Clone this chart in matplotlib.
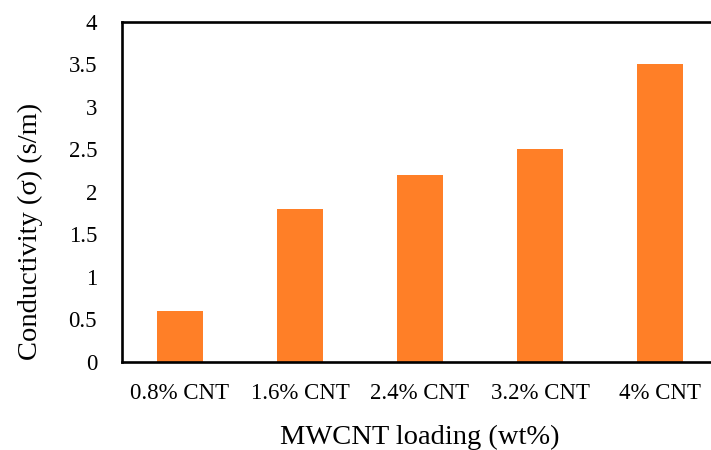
import matplotlib
matplotlib.use("Agg")
import matplotlib.pyplot as plt
import numpy as np

categories = ["0.8% CNT", "1.6% CNT", "2.4% CNT", "3.2% CNT", "4% CNT"]
conductivity = [0.6, 1.8, 2.2, 2.5, 3.5]
y_ticks = [0, 0.5, 1, 1.5, 2, 2.5, 3, 3.5, 4]
y_tick_labels = ["0", "0.5", "1", "1.5", "2", "2.5", "3", "3.5", "4"]

plt.rcParams["font.family"] = ["Liberation Serif", "DejaVu Serif"]

fig = plt.figure(figsize=(7.11, 4.5), dpi=100)
ax = fig.add_axes([0.1716, 0.1956, 0.8383, 0.7556])

x = np.arange(len(categories))
ax.bar(x, conductivity, width=0.39, color="#FF7F27", zorder=2)

ax.set_xlim(-0.483, len(categories) - 1 + 0.483)
ax.set_ylim(0, 4)
ax.set_xticks(x)
ax.set_xticklabels(categories)
ax.set_yticks(y_ticks)
ax.set_yticklabels(y_tick_labels)
ax.tick_params(axis="x", length=0, pad=15, labelsize=16.5)
ax.tick_params(axis="y", length=0, pad=18, labelsize=16.5)

for side in ("left", "bottom", "top"):
    ax.spines[side].set_linewidth(1.9)
    ax.spines[side].set_color("black")
ax.spines["right"].set_visible(False)

ax.set_xlabel("MWCNT loading (wt%)", fontsize=20.5)
ax.set_ylabel("Conductivity (σ) (s/m)", fontsize=20.5)
ax.xaxis.set_label_coords(0.50, -0.185)
ax.yaxis.set_label_coords(-0.133, 0.385)

fig.savefig("out.png", dpi=100)
